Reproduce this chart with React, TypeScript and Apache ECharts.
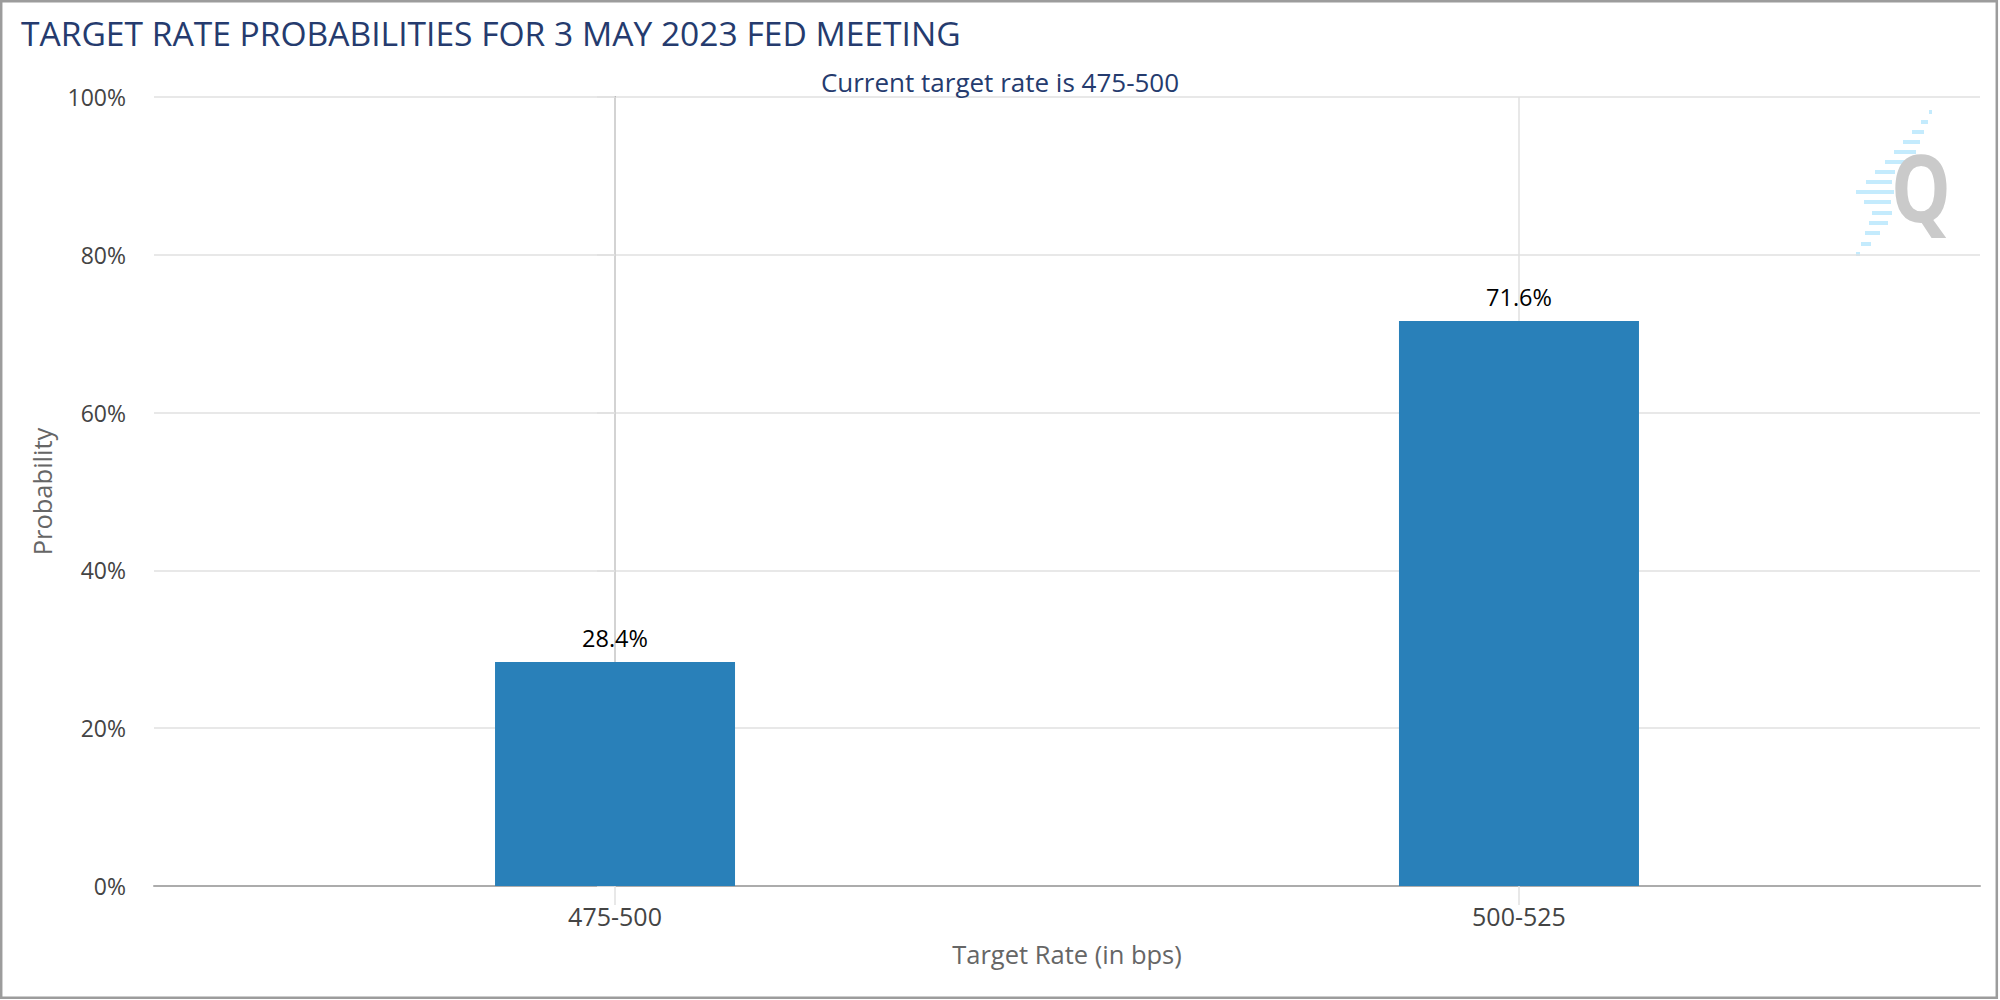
import React, { useEffect, useRef } from "react";
import * as echarts from "echarts";

const titleText = "TARGET RATE PROBABILITIES FOR 3 MAY 2023 FED MEETING";
const subtitleText = "Current target rate is 475-500";
const categories = ["475-500", "500-525"];
const probabilities = [28.4, 71.6];
const yTickValues = [0, 20, 40, 60, 80, 100];
const xAxisTitle = "Target Rate (in bps)";
const yAxisTitle = "Probability";

const FONT = "'Open Sans', 'DejaVu Sans', sans-serif";
const NAVY = "#253b6e";
const GRID = "#e0e0e0";
const AXIS = "#acacac";

// decorative watermark dashes (logo)
const logoDashes: [number, number, number][] = [
  [1929, 110, 3],
  [1921, 120, 7],
  [1912, 130, 12],
  [1903, 140, 17],
  [1894, 150, 22],
  [1885, 160, 22],
  [1875, 170, 20],
  [1866, 180, 26],
  [1856, 190, 38],
  [1864, 200, 27],
  [1872, 211, 20],
  [1869, 221, 19],
  [1865, 231, 15],
  [1861, 242, 10],
  [1856, 252, 4],
];

export default function App() {
  const ref = useRef<HTMLDivElement>(null);
  useEffect(() => {
    document.body.style.margin = "0";
    const chart = echarts.init(ref.current!, null, { renderer: "svg" });
    const option: any = {
      animation: false,
      backgroundColor: "#ffffff",
      textStyle: { fontFamily: FONT },
      title: [
        {
          text: titleText,
          left: 21,
          top: 12,
          padding: 0,
          textStyle: {
            fontFamily: FONT,
            fontSize: 33.6,
            fontWeight: "normal",
            color: NAVY,
            lineHeight: 42,
          },
        },
        {
          text: subtitleText,
          left: "center",
          top: 67,
          padding: 0,
          textStyle: {
            fontFamily: FONT,
            fontSize: 26,
            fontWeight: "normal",
            color: NAVY,
            lineHeight: 30,
          },
        },
      ],
      grid: { left: 154, right: 20, top: 97, bottom: 114, containLabel: false },
      xAxis: {
        type: "value",
        min: -0.51,
        max: 1.51,
        name: xAxisTitle,
        nameLocation: "middle",
        nameGap: 55,
        nameTextStyle: { fontFamily: FONT, fontSize: 25.5, color: "#666666" },
        axisLine: { show: true, onZero: false, lineStyle: { color: AXIS, width: 2 } },
        axisTick: {
          show: true,
          customValues: [0, 1],
          length: 19,
          lineStyle: { color: GRID, width: 1.5 },
        },
        axisLabel: {
          show: true,
          customValues: [0, 1],
          margin: 17,
          fontFamily: FONT,
          fontSize: 25,
          color: "#444444",
          formatter: (v: number) => categories[Math.round(v)] ?? "",
        },
        splitLine: { show: false },
      },
      yAxis: {
        type: "value",
        min: 0,
        max: 100,
        interval: 20,
        name: yAxisTitle,
        nameLocation: "middle",
        nameGap: 99,
        nameTextStyle: { fontFamily: FONT, fontSize: 25.5, color: "#666666" },
        axisLine: { show: true, lineStyle: { color: AXIS, width: 2 } },
        axisTick: { show: true, length: 18, lineStyle: { color: GRID, width: 1.5 } },
        axisLabel: {
          margin: 28,
          fontFamily: FONT,
          fontSize: 23,
          color: "#444444",
          formatter: (v: number) => (yTickValues.includes(v) ? `${v}%` : ""),
        },
        splitLine: { show: true, lineStyle: { color: GRID, width: 1.5 } },
      },
      series: [
        {
          type: "bar",
          data: probabilities.map((p, i) => [i, p]),
          barWidth: 240,
          itemStyle: { color: "#2980b9" },
          label: {
            show: true,
            position: "top",
            distance: 12,
            fontFamily: FONT,
            fontSize: 23.5,
            color: "#000000",
            formatter: (p: any) => `${p.value[1].toFixed(1)}%`,
          },
          markLine: {
            silent: true,
            z: 1,
            symbol: ["none", "none"],
            label: { show: false },
            lineStyle: { color: GRID, width: 1.5, type: "solid" },
            data: categories.map((_, i) => ({ xAxis: i })),
          },
        },
      ],
      graphic: [
        {
          type: "rect",
          silent: true,
          shape: { x: 1.2, y: 1.2, width: 1995.6, height: 996.6 },
          style: { fill: "none", stroke: "#9c9c9c", lineWidth: 2.5 },
          z: 100,
        },
        {
          type: "group",
          silent: true,
          z: 50,
          children: [
            ...logoDashes.map(([x, y, w]) => ({
              type: "rect",
              shape: { x, y, width: w, height: 4 },
              style: { fill: "#c4ebfd" },
            })),
            {
              type: "text",
              x: 1921,
              y: 186,
              scaleX: 0.8,
              style: {
                text: "Q",
                fontFamily: FONT,
                fontWeight: "bold",
                fontSize: 94,
                fill: "#cacaca",
                textAlign: "center",
                textVerticalAlign: "middle",
              },
            },
          ],
        },
      ],
    };
    chart.setOption(option);
    return () => chart.dispose();
  }, []);
  return <div ref={ref} style={{ width: 2000, height: 1000 }} />;
}
